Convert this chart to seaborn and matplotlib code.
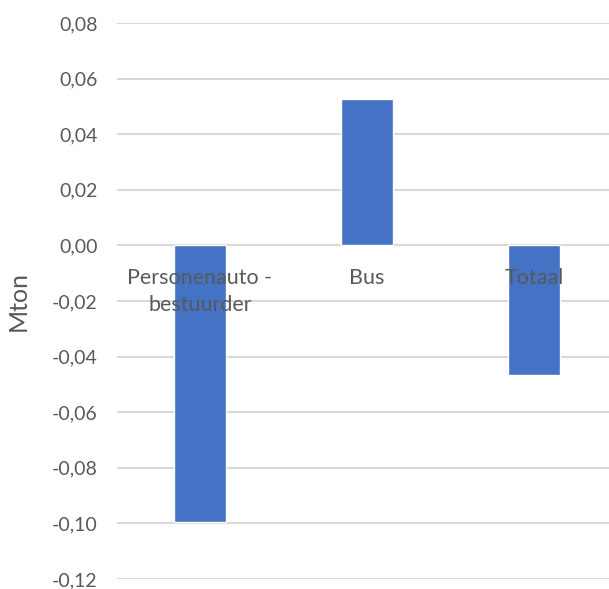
import matplotlib
matplotlib.use("Agg")
import matplotlib.pyplot as plt
import seaborn as sns
import pandas as pd
from matplotlib.ticker import FuncFormatter, MultipleLocator

categories = ["Personenauto -\nbestuurder", "Bus", "Totaal"]
values = [-0.0995, 0.0525, -0.0468]

sns.set_theme(style="white")
plt.rcParams["font.family"] = ["Lato", "DejaVu Sans"]

df = pd.DataFrame({"cat": categories, "val": values})

fig = plt.figure(figsize=(6.09, 5.89), dpi=100)
ax = fig.add_axes([0.192, 0.017, 0.808, 0.944])
sns.barplot(data=df, x="cat", y="val", color="#4472C4", saturation=1,
            width=0.31, ax=ax, zorder=2)

ax.set_ylim(-0.12, 0.08)
ax.set_xlim(-0.497, 2.449)
ax.yaxis.set_major_locator(MultipleLocator(0.02))
ax.yaxis.set_major_formatter(FuncFormatter(lambda v, p: f"{v:.2f}".replace(".", ",").replace("-0,00", "0,00")))
ax.grid(axis="y", color="#d9d9d9", linewidth=1.5)
ax.set_axisbelow(True)
for s in ["left", "right", "top", "bottom"]:
    ax.spines[s].set_visible(False)
ax.set_xticks(range(len(categories)))
ax.set_xticklabels([])
ax.tick_params(axis="x", length=0)
ax.tick_params(axis="y", length=0, pad=14, labelsize=14, labelcolor="#595959")
for i, lab in enumerate(categories):
    ax.annotate(lab, xy=(i, 0), xytext=(0, -16.5), textcoords="offset points",
                ha="center", va="top", fontsize=15.5, color="#595959",
                linespacing=1.45, zorder=5)
ax.set_xlabel("")
ax.set_ylabel("Mton", fontsize=18, color="#595959")
ax.yaxis.set_label_coords(-0.177, 0.5)

fig.savefig("out.png", dpi=100)
